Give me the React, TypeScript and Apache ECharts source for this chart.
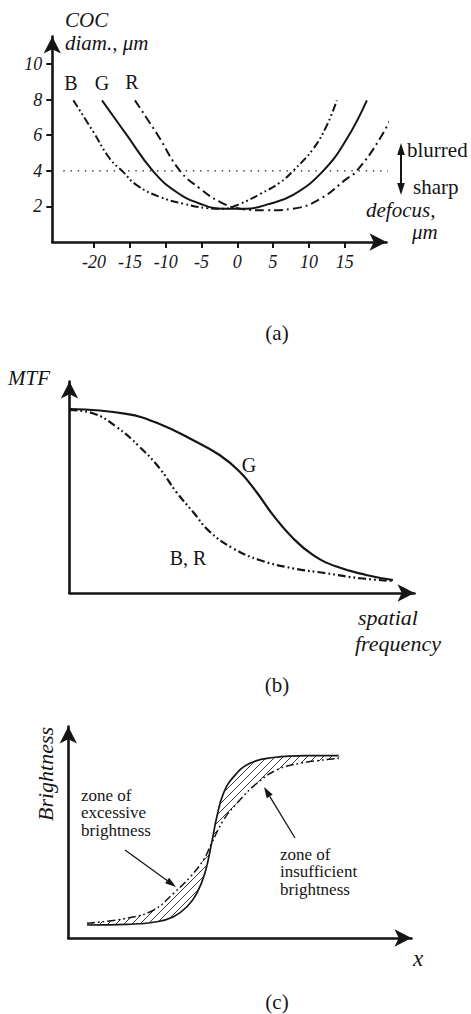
import React, { useEffect, useRef } from 'react';
import * as echarts from 'echarts';

const SERIF = "'Liberation Serif', 'Times New Roman', serif";
const INK = '#151515';

// ---------- Panel (a): circle of confusion vs defocus ----------
const cocXTicks = [-20, -15, -10, -5, 0, 5, 10, 15];
const cocYTicks = [2, 4, 6, 8, 10];
const cocB: number[][] = [[-22.9, 7.96], [-20.1, 6.18], [-17.8, 4.68], [-16.1, 4.0], [-14.0, 3.18], [-10.8, 2.53], [-7.5, 2.15], [-4.3, 1.91], [-2.0, 1.87], [0.4, 2.15], [3.2, 2.7], [6.0, 3.35], [7.8, 4.0], [10.6, 5.24], [12.5, 6.55], [13.9, 7.96]];
const cocG: number[][] = [[-18.9, 7.96], [-15.4, 5.99], [-11.8, 4.0], [-8.5, 2.81], [-5.2, 2.15], [-2.0, 1.87], [1.3, 1.87], [4.1, 2.1], [7.8, 2.65], [12.0, 4.0], [15.3, 5.8], [18.1, 7.96]];
const cocR: number[][] = [[-14.3, 7.96], [-11.1, 6.0], [-8.0, 4.0], [-5.2, 3.0], [-2.4, 2.25], [0.4, 1.87], [4.1, 1.78], [7.8, 1.87], [11.6, 2.43], [15.3, 3.56], [16.7, 4.0], [19.9, 5.8], [22.7, 7.96]];
const cocThreshold: number[][] = [[-24.3, 4], [27.3, 4]];

// ---------- Panel (b): MTF vs spatial frequency ----------
const mtfG: number[][] = [[0, 8.36], [1.61, 8.14], [2.55, 7.68], [3.49, 6.95], [4.25, 6.27], [4.82, 5.51], [5.29, 4.6], [5.76, 3.55], [6.33, 2.49], [6.89, 1.73], [7.56, 1.2], [8.4, 0.82], [9.16, 0.59]];
const mtfBR: number[][] = [[0, 8.32], [0.66, 8.17], [1.32, 7.56], [1.98, 6.65], [2.55, 5.67], [3.02, 4.6], [3.49, 3.7], [3.97, 2.79], [4.63, 2.03], [5.38, 1.5], [6.33, 1.12], [7.27, 0.9], [8.22, 0.67], [9.16, 0.55]];

// ---------- Panel (c): brightness edge profiles ----------
const edgeSharp: number[][] = [[0.53, 0.59], [1.67, 0.62], [2.52, 0.74], [2.99, 0.97], [3.37, 1.42], [3.65, 2.03], [3.88, 2.94], [4.07, 4.3], [4.22, 5.51], [4.41, 6.58], [4.7, 7.33], [5.16, 7.94], [5.83, 8.2], [6.78, 8.29], [7.68, 8.29]];
const edgeBlur: number[][] = [[0.53, 0.67], [1.67, 0.9], [2.42, 1.27], [2.99, 2.03], [3.47, 2.79], [3.84, 3.55], [4.07, 4.3], [4.41, 5.36], [4.79, 6.12], [5.36, 7.03], [5.93, 7.64], [6.59, 7.94], [7.68, 8.16]];

const DASH_DOT_DOT = [8, 3, 1.8, 3, 1.8, 3];
const DASH_DOT = [9, 4, 2, 4];

function txt(text: string, x: number, y: number, o: any = {}) {
  return {
    type: 'text',
    x,
    y,
    rotation: o.rotation ?? 0,
    silent: true,
    style: {
      text,
      fill: INK,
      fontFamily: SERIF,
      fontSize: o.size ?? 19,
      fontStyle: o.italic ? 'italic' : 'normal',
      align: o.align ?? 'left',
      verticalAlign: o.va ?? 'middle',
      lineHeight: o.lh,
    },
  };
}

function arrow(x1: number, y1: number, x2: number, y2: number, head = 11, half = 3.5, width = 1.3) {
  const dx = x2 - x1;
  const dy = y2 - y1;
  const L = Math.hypot(dx, dy);
  const ux = dx / L;
  const uy = dy / L;
  const bx = x2 - ux * head;
  const by = y2 - uy * head;
  return [
    { type: 'line', silent: true, shape: { x1, y1, x2: bx, y2: by }, style: { stroke: INK, lineWidth: width } },
    {
      type: 'polygon',
      silent: true,
      shape: { points: [[x2, y2], [bx - uy * half, by + ux * half], [bx + uy * half, by - ux * half]] },
      style: { fill: INK },
    },
  ];
}

function axisLine(arrowOn: boolean) {
  return {
    show: true,
    onZero: false,
    symbol: arrowOn ? ['none', 'arrow'] : 'none',
    symbolSize: [13, 17],
    lineStyle: { color: INK, width: 2.6 },
  };
}

const plainAxis = (grid: number, min: number, max: number) => ({
  type: 'value',
  gridIndex: grid,
  min,
  max,
  axisLine: axisLine(true),
  axisTick: { show: false },
  axisLabel: { show: false },
  splitLine: { show: false },
});

const hatchSvg =
  "<svg xmlns='http://www.w3.org/2000/svg' width='8' height='8'><path d='M0 8 L8 0 M-2 2 L2 -2 M6 10 L10 6' stroke='#222' stroke-width='0.9' fill='none'/></svg>";
const hatchPattern = {
  image: 'data:image/svg+xml;charset=utf-8,' + encodeURIComponent(hatchSvg),
  repeat: 'repeat',
  imageWidth: 8,
  imageHeight: 8,
};

const curve = (name: string, xi: number, data: number[][], lineStyle: any, extra: any = {}) => ({
  name,
  type: 'line',
  xAxisIndex: xi,
  yAxisIndex: xi,
  data,
  smooth: 0.45,
  showSymbol: false,
  lineStyle: { color: INK, ...lineStyle },
  ...extra,
});

export default function App() {
  const ref = useRef<HTMLDivElement>(null);

  useEffect(() => {
    if (!ref.current) return;
    const chart = echarts.init(ref.current, null, { renderer: 'svg' });

    const tickLabel = {
      show: true,
      fontFamily: SERIF,
      fontStyle: 'italic',
      fontSize: 18,
      color: INK,
    };

    const option: any = {
      animation: false,
      backgroundColor: '#ffffff',
      grid: [
        { left: 52.3, top: 36.5, width: 334.2, height: 205.5, outerBoundsMode: 'none' },
        { left: 69.5, top: 381.5, width: 345, height: 211.5, outerBoundsMode: 'none' },
        { left: 68.3, top: 726.5, width: 343.2, height: 211.5, outerBoundsMode: 'none' },
      ],
      xAxis: [
        {
          type: 'value',
          gridIndex: 0,
          min: -25.84,
          max: 20.84,
          axisLine: axisLine(true),
          axisTick: { show: true, customValues: cocXTicks, length: 6, lineStyle: { color: INK, width: 2 } },
          axisLabel: { ...tickLabel, customValues: cocXTicks, margin: 11 },
          splitLine: { show: false },
        },
        plainAxis(1, 0, 9.77),
        plainAxis(2, 0, 9.75),
      ],
      yAxis: [
        {
          type: 'value',
          gridIndex: 0,
          min: 0,
          max: 11.55,
          axisLine: axisLine(true),
          axisTick: { show: true, customValues: cocYTicks, length: 6, lineStyle: { color: INK, width: 2 } },
          axisLabel: { ...tickLabel, customValues: cocYTicks, margin: 10 },
          splitLine: { show: false },
        },
        plainAxis(1, 0, 9.61),
        plainAxis(2, 0, 9.61),
      ],
      series: [
        {
          name: 'threshold',
          type: 'line',
          xAxisIndex: 0,
          yAxisIndex: 0,
          data: cocThreshold,
          showSymbol: false,
          clip: false,
          silent: true,
          lineStyle: { color: INK, width: 1.4, type: [1.4, 5.8] },
        },
        curve('B', 0, cocB, { width: 2, type: DASH_DOT_DOT }, { clip: false }),
        curve('G', 0, cocG, { width: 2 }, { clip: false }),
        curve('R', 0, cocR, { width: 2, type: DASH_DOT }, { clip: false }),
        curve('MTF G', 1, mtfG, { width: 2.2 }),
        curve('MTF B, R', 1, mtfBR, { width: 2.2, type: DASH_DOT_DOT }),
        {
          name: 'hatch',
          type: 'custom',
          xAxisIndex: 2,
          yAxisIndex: 2,
          data: [[0, 0]],
          silent: true,
          z: 1,
          renderItem: (_params: any, api: any) => {
            const upper = edgeSharp.map((p) => api.coord(p));
            const lower = edgeBlur.map((p) => api.coord(p)).reverse();
            return {
              type: 'polygon',
              shape: { points: upper.concat(lower), smooth: 0.35 },
              style: { fill: hatchPattern, stroke: 'none' },
            };
          },
        },
        curve('sharp edge', 2, edgeSharp, { width: 1.7 }, { z: 3 }),
        curve('blurred edge', 2, edgeBlur, { width: 1.5, type: DASH_DOT_DOT }, { z: 3 }),
      ],
      graphic: [
        // panel (a)
        txt('COC', 65, 20, { italic: true, size: 21 }),
        txt('diam., \u03bcm', 65, 43, { italic: true, size: 21 }),
        txt('B', 71, 83, { align: 'center', size: 20 }),
        txt('G', 102, 83, { align: 'center', size: 20 }),
        txt('R', 132, 82, { align: 'center', size: 20 }),
        txt('blurred', 407, 150, { size: 21 }),
        txt('sharp', 413, 187, { size: 21 }),
        txt('defocus,', 366, 210, { italic: true, size: 21 }),
        txt('\u03bcm', 412, 232, { italic: true, size: 21 }),
        ...arrow(401, 169, 401, 143, 12, 3.8, 2),
        ...arrow(401, 169, 401, 195, 12, 3.8, 2),
        txt('(a)', 277, 333, { align: 'center', size: 21 }),
        // panel (b)
        txt('MTF', 8, 378, { italic: true, size: 21 }),
        txt('G', 249, 465, { align: 'center', size: 20 }),
        txt('B, R', 188, 558, { align: 'center', size: 20 }),
        txt('spatial', 358, 617, { italic: true, size: 22 }),
        txt('frequency', 355, 643, { italic: true, size: 22 }),
        txt('(b)', 277, 685, { align: 'center', size: 21 }),
        // panel (c)
        txt('Brightness', 45, 774, { italic: true, size: 22, align: 'center', rotation: Math.PI / 2 }),
        txt('zone of', 81, 795, { size: 17 }),
        txt('excessive', 81, 812.5, { size: 17 }),
        txt('brightness', 81, 830, { size: 17 }),
        ...arrow(125, 850, 176, 887),
        txt('zone of', 280, 854, { size: 17 }),
        txt('insufficient', 280, 871.5, { size: 17 }),
        txt('brightness', 280, 889, { size: 17 }),
        ...arrow(295, 838, 264, 787),
        txt('x', 418, 958, { italic: true, size: 23, align: 'center' }),
        txt('(c)', 277, 1002, { align: 'center', size: 21 }),
      ],
    };

    chart.setOption(option);
    return () => chart.dispose();
  }, []);

  return (
    <div
      ref={ref}
      style={{ position: 'absolute', left: 0, top: 0, width: 471, height: 1014, background: '#fff' }}
    />
  );
}
